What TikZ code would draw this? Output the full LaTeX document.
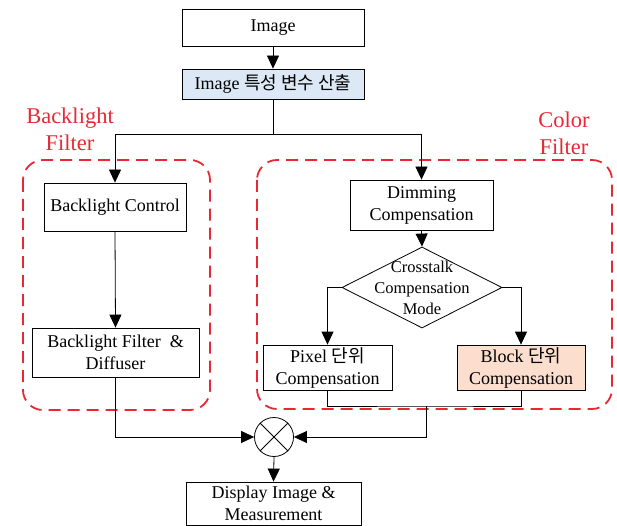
\documentclass[tikz,border=0pt]{standalone}
\usepackage{fontspec}
\setmainfont{Liberation Serif}
\newfontfamily\kr{Noto Sans CJK KR}
\usetikzlibrary{arrows.meta,shapes.geometric,calc}
\definecolor{redline}{RGB}{232,40,52}
\definecolor{lblue}{RGB}{220,232,245}
\definecolor{peach}{RGB}{251,222,205}
\begin{document}
\begin{tikzpicture}[x=1pt,y=-1pt,
  box/.style={draw, line width=0.8pt, align=center, inner sep=0pt,
    font=\fontsize{18}{22}\selectfont},
  arr/.style={line width=0.8pt, -{Triangle[length=13pt,width=12pt]}},
  ln/.style={line width=0.8pt},
  grp/.style={draw=redline, line width=1.8pt, dash pattern=on 12pt off 7pt, rounded corners=20pt},
  grplabel/.style={text=redline, align=center, font=\fontsize{22.5}{27}\selectfont}]
\useasboundingbox (0,0) rectangle (617,526);

% groups
\draw[grp] (23,160) rectangle (210,410);
\draw[grp] (257,160) rectangle (612,409);
\node[grplabel] (lblL) at (70,129) {Backlight\\Filter};
\node[grplabel] (lblR) at (564,133) {Color\\Filter};

% nodes
\node[box, minimum width=182pt, minimum height=37pt] (img) at (273,27.5) {Image};
\node[box, fill=lblue, minimum width=182pt, minimum height=30pt] (par) at (273,84) {Image {\kr 특성 변수 산출}};
\node[box, minimum width=142pt, minimum height=48pt] (bc) at (115,207) {Backlight Control};
\node[box, minimum width=167pt, minimum height=49pt] (bfd) at (115.5,352.5) {Backlight Filter~~\&\\Diffuser};
\node[box, minimum width=143pt, minimum height=50pt] (dc) at (421.5,205) {Dimming\\Compensation};
\node[draw, line width=0.8pt, diamond, inner sep=0pt, minimum width=160pt, minimum height=81pt] (dia) at (422,287.5) {};
\node[align=center, font=\fontsize{16.5}{21}\selectfont] (diat) at (dia) {Crosstalk\\Compensation\\Mode};
\node[box, minimum width=129pt, minimum height=45pt] (pix) at (327.5,367.5) {Pixel {\kr 단위}\\Compensation};
\node[box, fill=peach, minimum width=128pt, minimum height=45pt] (blk) at (521,367.5) {Block {\kr 단위}\\Compensation};
\node[draw, line width=0.8pt, circle, inner sep=0pt, minimum size=39pt] (mix) at (274,437) {};
\draw[ln] (mix.north east) -- (mix.south west);
\draw[ln] (mix.north west) -- (mix.south east);
\node[box, minimum width=175pt, minimum height=43pt] (disp) at (273.5,503.5) {Display Image \&\\Measurement};

% connectors
\coordinate (br) at (273,134);
\coordinate (jn) at (426,406);
\draw[arr] (img.south) -- (par.north);
\draw[ln] (par.south) -- (br);
\draw[arr] (br) -| (bc.north);
\draw[arr] (br) -| (dc.north);
\draw[arr] (bc.south) -- (bfd.north);
\draw[arr] (dc.south) -- (dia.north);
\draw[arr] (dia.west) -| (pix.north);
\draw[arr] (dia.east) -| (blk.north);
\draw[ln] (pix.south) |- (jn) -| (blk.south);
\draw[arr] (jn) |- (mix.east);
\draw[arr] (bfd.south) |- (mix.west);
\draw[arr] (mix.south) -- (disp.north);
\end{tikzpicture}
\end{document}
